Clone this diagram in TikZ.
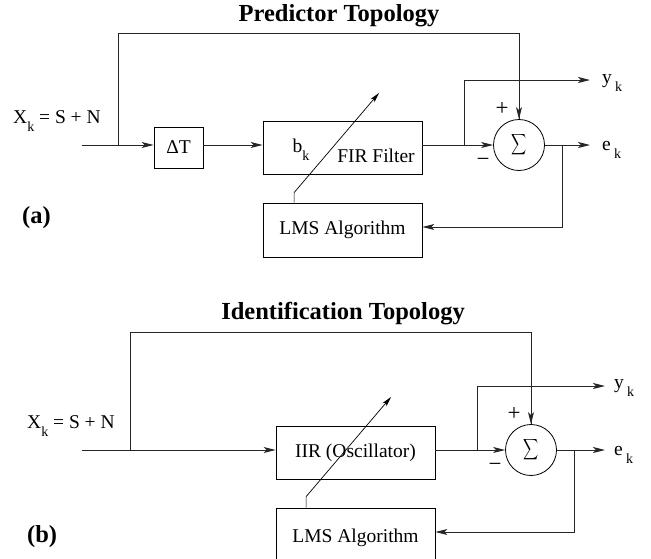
\documentclass[tikz,border=0pt]{standalone}
\usepackage{fontspec}
\setmainfont{Liberation Serif}
\usetikzlibrary{arrows.meta}
\newcommand{\mysub}[1]{\raisebox{-0.4em}{\fontsize{14}{14}\selectfont #1}}
\tikzset{
  blk/.style={draw, line width=0.8pt, rectangle, inner sep=0pt, minimum width=159pt, minimum height=53pt, font=\fontsize{19.5}{21}\selectfont},
  smallblk/.style={draw, line width=0.8pt, rectangle, inner sep=0pt, minimum width=49pt, minimum height=41pt, font=\fontsize{19.5}{21}\selectfont},
  sumnode/.style={draw, line width=0.8pt, circle, inner sep=0pt, minimum size=51pt},
  wire/.style={line width=0.9pt, draw=black!85},
  arr/.style={wire, -{Stealth[length=12pt,width=6pt,inset=3pt]}},
  tune/.style={line width=0.7pt, -{Stealth[length=10pt,width=5pt,inset=2.5pt]}},
  lbl/.style={font=\fontsize{19.5}{21}\selectfont, inner sep=0pt},
  sgn/.style={font=\fontsize{23}{23}\selectfont, inner sep=0pt},
  ttl/.style={font=\fontsize{24.5}{26}\selectfont\bfseries, inner sep=0pt},
}
\newcommand{\bigsum}{\scalebox{1.05}[1.45]{$\displaystyle\sum$}}
\begin{document}
\begin{tikzpicture}[x=1pt,y=-1pt]
\useasboundingbox (0,0) rectangle (651,558);
\clip (0,0) rectangle (651,558);
% ---------------- (a) ----------------
\node[ttl] (tA) at (339,16) {Predictor Topology};
\node[ttl, anchor=west] (labA) at (22,218) {(a)};
\node[lbl, anchor=west] (xA) at (13,121) {X\mysub{k} = S + N};
\node[smallblk] (dT) at (178.5,147.5) {ΔT};
\node[blk] (fir) at (342.5,147.5) {};
\node[lbl] (bk) at (301,150) {b\mysub{k}};
\node[lbl] (firtxt) at (376,156) {FIR Filter};
\node[blk, minimum height=54pt] (lmsA) at (342.5,230) {LMS Algorithm};
\node[sumnode] (sumA) at (519,145) {\bigsum};
\node[sgn] (pA) at (502,109) {+};
\node[sgn] (mAlbl) at (483,162) {−};
\node[lbl, anchor=west] (ykA) at (602,83) {y\,\mysub{k}};
\node[lbl, anchor=west] (ekA) at (602,150) {e\,\mysub{k}};
\coordinate (inA) at (82,145);
\coordinate (jA) at (118,145);
\coordinate (kA) at (464,145);
\coordinate (mA) at (562,145);
\coordinate (yA) at (590,80);
\coordinate (eA) at (590,145);
\coordinate (tipA) at (379,93);
\draw[wire] (inA) -- (jA);
\draw[arr] (jA) -- (dT.west |- jA);
\draw[wire] (jA) -- (118,33) -| (sumA.north);
\draw[arr] (519,105) -- (sumA.north);
\draw[arr] (dT.east |- jA) -- (fir.west |- jA);
\draw[wire] (fir.east |- jA) -- (kA);
\draw[arr] (kA) -- (sumA.west);
\draw[arr] (kA) |- (yA);
\draw[arr] (sumA.east) -- (eA);
\draw[arr] (mA) |- (lmsA.east |- 0,227);
\draw[tune] (lmsA.north west) ++(31.5,0) -- ++(0,-10) -- (tipA);
% ---------------- (b) ----------------
\node[ttl] (tB) at (343,314) {Identification Topology};
\node[ttl, anchor=west] (labB) at (27,537) {(b)};
\node[lbl, anchor=west] (xB) at (27,426) {X\mysub{k} = S + N};
\node[blk] (iir) at (355.5,452.5) {IIR (Oscillator)};
\node[blk, minimum height=80pt] (lmsB) at (355.5,548) {};
\node[lbl] (lmsBtxt) at (355.5,538) {LMS Algorithm};
\node[sumnode] (sumB) at (531,450) {\bigsum};
\node[sgn] (pB) at (514,414) {+};
\node[sgn] (mBlbl) at (495,467) {−};
\node[lbl, anchor=west] (ykB) at (614,388) {y\,\mysub{k}};
\node[lbl, anchor=west] (ekB) at (614,455) {e\,\mysub{k}};
\coordinate (inB) at (82,450);
\coordinate (jB) at (130,450);
\coordinate (kB) at (477,450);
\coordinate (mB) at (574,450);
\coordinate (yB) at (605,386);
\coordinate (eB) at (605,450);
\coordinate (tipB) at (391,397);
\draw[wire] (inB) -- (jB);
\draw[arr] (jB) -- (iir.west |- jB);
\draw[wire] (jB) -- (130,332) -| (sumB.north);
\draw[arr] (531,410) -- (sumB.north);
\draw[wire] (iir.east |- jB) -- (kB);
\draw[arr] (kB) -- (sumB.west);
\draw[arr] (kB) |- (yB);
\draw[arr] (sumB.east) -- (eB);
\draw[arr] (mB) |- (lmsB.east |- 0,532);
\draw[tune] (lmsB.north west) ++(30.5,0) -- ++(0,-11) -- (tipB);
\end{tikzpicture}
\end{document}
